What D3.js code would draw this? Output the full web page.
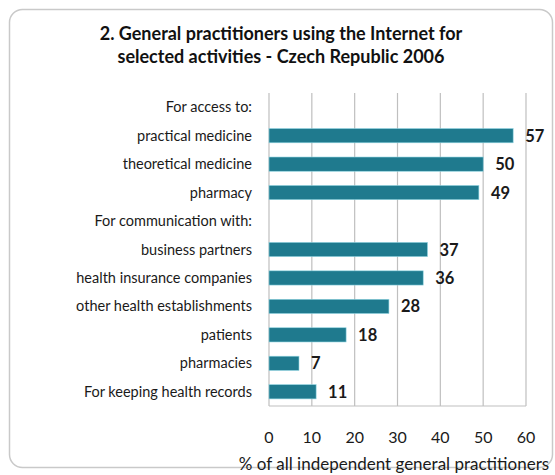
<!DOCTYPE html>
<html><head><meta charset="utf-8">
<script src="https://cdn.jsdelivr.net/npm/d3@7"></script>
<style>body{margin:0;background:#fff}svg{display:block}text{font-family:Lato,"Open Sans",sans-serif}</style>
</head><body>
<script>
const categories = ["For access to:","practical medicine","theoretical medicine","pharmacy","For communication with:","business partners","health insurance companies","other health establishments","patients","pharmacies","For keeping health records"];
const values = [null,57,50,49,null,37,36,28,18,7,11];
const xTicks = [0,10,20,30,40,50,60];
const titleLines = ["2. General practitioners using the Internet for","selected activities - Czech Republic  2006"];
const axisTitle = "% of all independent  general practitioners";

const W=555,H=475;
const svg=d3.select("body").append("svg").attr("width",W).attr("height",H);
svg.append("rect").attr("x",9.5).attr("y",9.5).attr("width",543).attr("height",458).attr("rx",13)
  .attr("fill","#fff").attr("stroke","#c9c9c9").attr("stroke-width",1.5);

svg.selectAll("text.title").data(titleLines).join("text").attr("class","title")
  .attr("x",281).attr("y",(d,i)=>40+i*23).attr("text-anchor","middle")
  .attr("font-size",18).attr("font-weight","bold").attr("fill","#111").text(d=>d);

const x=d3.scaleLinear().domain([0,60]).range([269,526]);
const y=d3.scaleBand().domain(categories).range([93,406]).paddingInner(0.5).paddingOuter(0.25);

const g=svg.append("g");
g.selectAll("line.grid").data(xTicks).join("line").attr("class","grid")
  .attr("x1",d=>x(d)).attr("x2",d=>x(d)).attr("y1",93).attr("y2",406)
  .attr("stroke","#bfbfbf").attr("stroke-width",1.2);
g.append("line").attr("x1",x(0)).attr("x2",x(60)).attr("y1",406).attr("y2",406).attr("stroke","#bfbfbf").attr("stroke-width",1.2);

const data=categories.map((c,i)=>({c,v:values[i]}));
g.selectAll("rect.bar").data(data.filter(d=>d.v!=null)).join("rect").attr("class","bar")
  .attr("x",x(0)).attr("y",d=>y(d.c)).attr("width",d=>x(d.v)-x(0)).attr("height",y.bandwidth())
  .attr("fill","#1f7a8e").attr("stroke","#8fd3e0").attr("stroke-width",0.6);

g.selectAll("text.val").data(data.filter(d=>d.v!=null)).join("text").attr("class","val")
  .attr("x",d=>x(d.v)+12).attr("y",d=>y(d.c)+y.bandwidth()/2+6)
  .attr("font-size",16.5).attr("font-weight","bold").attr("fill","#1a1a1a").text(d=>d.v);

g.selectAll("text.cat").data(categories).join("text").attr("class","cat")
  .attr("x",252).attr("y",d=>y(d)+y.bandwidth()/2+5).attr("text-anchor","end")
  .attr("font-size",14.5).attr("fill","#1a1a1a").text(d=>d);

g.selectAll("text.tick").data(xTicks).join("text").attr("class","tick")
  .attr("x",d=>x(d)).attr("y",443).attr("text-anchor","middle")
  .attr("font-size",16).attr("fill","#1a1a1a").text(d=>d);

svg.append("text").attr("x",394).attr("y",470).attr("text-anchor","middle")
  .attr("font-size",17).attr("fill","#1a1a1a").text(axisTitle);
</script>
</body></html>
